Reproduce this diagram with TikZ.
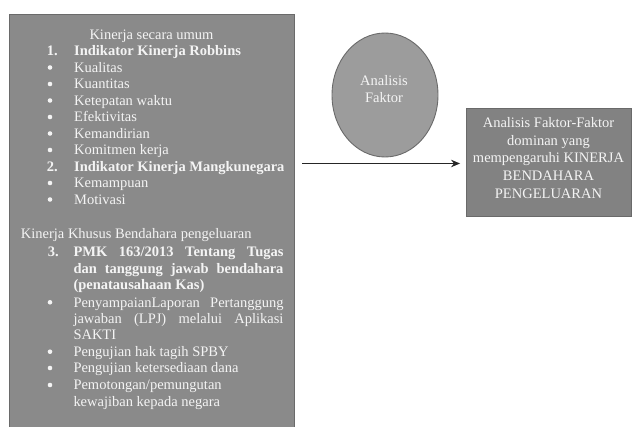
\documentclass[tikz,border=0pt]{standalone}
\usepackage{fontspec}
\setmainfont{Liberation Serif}
\usetikzlibrary{shapes.geometric,arrows.meta}
\definecolor{boxL}{HTML}{8A8A8A}
\definecolor{boxR}{HTML}{828282}
\definecolor{ellF}{HTML}{9C9C9C}
\definecolor{edgeC}{HTML}{6A6A6A}
\definecolor{txtC}{HTML}{F4F4F4}
\begin{document}
\begin{tikzpicture}[x=1pt,y=-1pt,
  txt/.style={text=txtC, font=\fontsize{14.5}{17}\selectfont, inner sep=0pt, anchor=base west},
  btxt/.style={txt, font=\fontsize{14.5}{17}\selectfont\bfseries},
  dotb/.style={circle, fill=txtC, draw=none, minimum size=4.6pt, inner sep=0pt},
  shapebox/.style={draw=edgeC, line width=0.9pt, inner sep=0pt}]
\useasboundingbox (0,0) rectangle (633,427);
% left box
\node[shapebox, fill=boxL, rectangle, minimum width=285pt, minimum height=426pt] (lb) at (151.5,227) {};
% ellipse
\node[shapebox, fill=ellF, ellipse, minimum width=106pt, minimum height=124pt] (el) at (385,95) {};
\node[text=txtC, font=\fontsize{14.5}{17}\selectfont, align=center, inner sep=0pt] (elt) at (384,89) {Analisis\\Faktor};
% right box
\node[shapebox, fill=boxR, rectangle, minimum width=165pt, minimum height=108pt] (rb) at (548.5,162) {};
\node[text=txtC, font=\fontsize{14.5}{17.7}\selectfont, align=center, inner sep=0pt] (rbt) at (548.5,158) {Analisis Faktor-Faktor\\dominan yang\\mempengaruhi KINERJA\\BENDAHARA\\PENGELUARAN};
% arrow
\coordinate (as) at (302,163.5);
\draw[line width=1.3pt, black!85, -{Stealth[length=9pt,width=7.5pt]}, shorten >=5.5pt] (as) -- (as -| rb.west);
% left text
\node[txt] (l0) at (89.3,39.5) {Kinerja secara umum};
\node[btxt] (n1) at (46.7,56) {1.};
\node[btxt] (l1) at (74,56) {Indikator Kinerja Robbins};
\node[dotb] (b2) at (50,67.5) {};
\node[txt] (l2) at (74,72.5) {Kualitas};
\node[dotb] (b3) at (50,84) {};
\node[txt] (l3) at (74,89) {Kuantitas};
\node[dotb] (b4) at (50,100.5) {};
\node[txt] (l4) at (74,105.5) {Ketepatan waktu};
\node[dotb] (b5) at (50,117) {};
\node[txt] (l5) at (74,122) {Efektivitas};
\node[dotb] (b6) at (50,133.5) {};
\node[txt] (l6) at (74,138.5) {Kemandirian};
\node[dotb] (b7) at (50,150) {};
\node[txt] (l7) at (74,155) {Komitmen kerja};
\node[btxt] (n2) at (46.7,171.5) {2.};
\node[btxt] (l8) at (74,171.5) {Indikator Kinerja Mangkunegara};
\node[dotb] (b9) at (50,183) {};
\node[txt] (l9) at (74,188) {Kemampuan};
\node[dotb] (b10) at (50,199.5) {};
\node[txt] (l10) at (74,204.5) {Motivasi};
\node[txt] (k0) at (20.7,238.3) {Kinerja Khusus Bendahara pengeluaran};
\node[btxt] (n3) at (47.7,256.5) {3.};
\node[btxt] (k1) at (73.3,256.5) {\makebox[210pt][s]{PMK 163/2013 Tentang Tugas}};
\node[btxt] (k2) at (73.3,273.3) {\makebox[210pt][s]{dan tanggung jawab bendahara}};
\node[btxt] (k3) at (73.3,289.8) {(penatausahaan Kas)};
\node[dotb] (c1) at (50,302.3) {};
\node[txt] (k4) at (73.3,307.3) {\makebox[210pt][s]{PenyampaianLaporan Pertanggung}};
\node[txt] (k5) at (73.3,324) {\makebox[210pt][s]{jawaban (LPJ) melalui Aplikasi}};
\node[txt] (k6) at (73.3,340) {SAKTI};
\node[dotb] (c2) at (50,351.7) {};
\node[txt] (k7) at (73.3,356.7) {Pengujian hak tagih SPBY};
\node[dotb] (c3) at (50,368) {};
\node[txt] (k8) at (73.3,373) {Pengujian ketersediaan dana};
\node[dotb] (c4) at (50,385) {};
\node[txt] (k9) at (73.3,390) {Pemotongan/pemungutan};
\node[txt] (k10) at (73.3,406.5) {kewajiban kepada negara};
\end{tikzpicture}
\end{document}
